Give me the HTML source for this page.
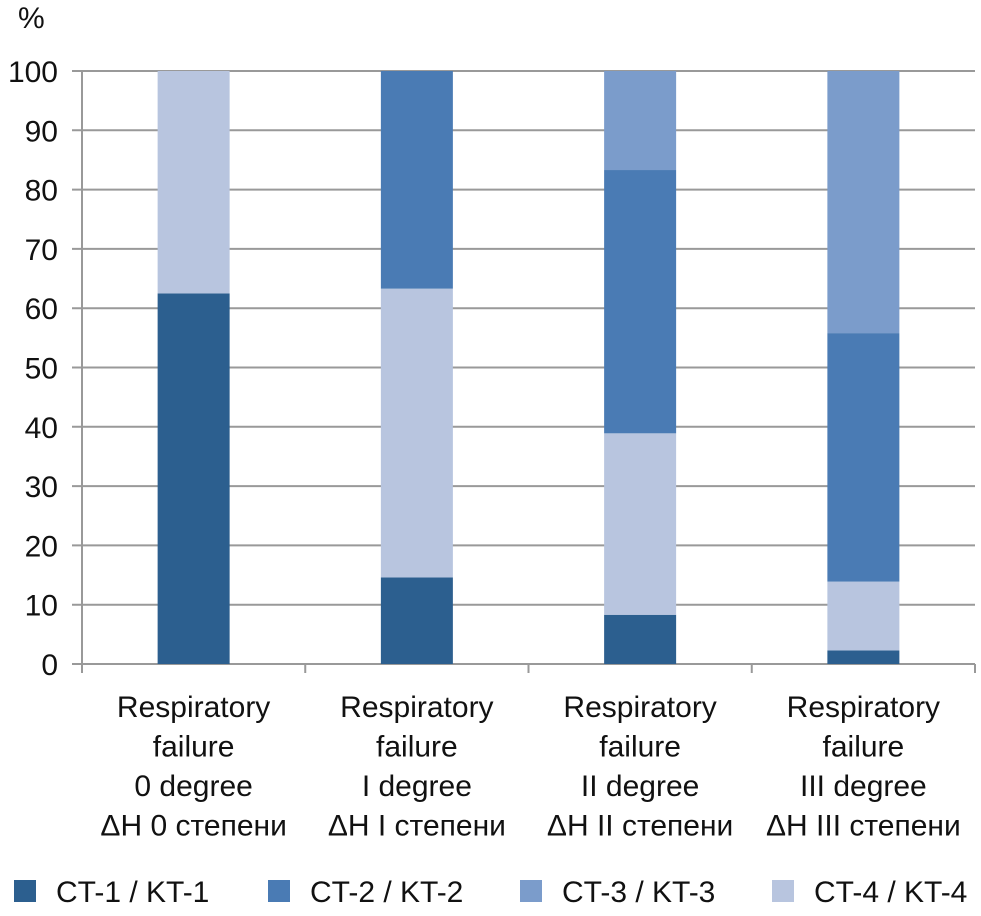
<!DOCTYPE html>
<html><head><meta charset="utf-8">
<style>
body{margin:0;background:#fff;}
svg{display:block;font-family:"Liberation Sans",sans-serif;}
</style></head>
<body>
<svg id="chart" width="981" height="916" viewBox="0 0 981 916">
<text x="18" y="28" font-size="30" fill="#111">%</text>
<g id="grid"></g><g id="bars"></g><g id="labels"></g><g id="legend"></g>
</svg>
<script>
const categories=[["Respiratory","failure","0 degree","ΔН 0 степени"],["Respiratory","failure","I degree","ΔН I степени"],["Respiratory","failure","II degree","ΔН II степени"],["Respiratory","failure","III degree","ΔН III степени"]];
const seriesNames=["CT-1 / KT-1","CT-2 / KT-2","CT-3 / KT-3","CT-4 / KT-4"];
const ct1=[62.5,14.6,8.3,2.3];
const ct4=[37.5,48.7,30.6,11.6];
const ct2=[0,36.7,44.4,41.9];
const ct3=[0,0,16.7,44.2];
const yTicks=[0,10,20,30,40,50,60,70,80,90,100];
const colors={ct1:"#2c5f8f",ct2:"#4a7bb4",ct3:"#7b9ccb",ct4:"#b8c5df"};
const NS="http://www.w3.org/2000/svg";
const x0=82,x1=975,yb=664,yt=71;
const y=v=>yb-(yb-yt)*v/100;
const bandW=(x1-x0)/categories.length;
const xc=i=>x0+bandW*(i+0.5);
const barW=72;
function mk(tag,attrs,parent){const e=document.createElementNS(NS,tag);for(const k in attrs)e.setAttribute(k,attrs[k]);parent.appendChild(e);return e;}
const grid=document.getElementById('grid');
yTicks.forEach(t=>{
 const l=mk('line',{x1:72,x2:x1,y1:y(t),y2:y(t),stroke:"#999","stroke-width":2},grid);
 
 
 const tx=mk('text',{x:58,y:y(t)+11,"text-anchor":"end","font-size":30,fill:"#111"},grid);
 tx.textContent=t;
 
 
});
const ax=mk('line',{x1:x0,x2:x0,y1:yt,y2:673,stroke:"#999","stroke-width":2},grid);


for(let i=1;i<=categories.length;i++){
 const tk=mk('line',{x1:x0+bandW*i,x2:x0+bandW*i,y1:yb,y2:673,stroke:"#999","stroke-width":2},grid);
 
 
}
const bars=document.getElementById('bars');
const order=[["ct1",ct1],["ct4",ct4],["ct2",ct2],["ct3",ct3]];
categories.forEach((c,i)=>{
 let acc=0;
 order.forEach(([k,arr])=>{
  const v=arr[i];
  if(v>0){
   const r=mk('rect',{x:xc(i)-barW/2,y:y(acc+v),width:barW,height:y(acc)-y(acc+v),fill:colors[k]},bars);
   
   
  }
  acc+=v;
 });
});
const labels=document.getElementById('labels');
categories.forEach((lines,i)=>{
 lines.forEach((s,j)=>{
  const t=mk('text',{x:xc(i),y:717+j*39.5,"text-anchor":"middle","font-size":30,fill:"#111"},labels);
  t.textContent=s;
  
  
 });
});
const legend=document.getElementById('legend');
const lx=[14,268,520,772];
const lk=["ct1","ct2","ct3","ct4"];
seriesNames.forEach((n,i)=>{
 const r=mk('rect',{x:lx[i],y:880,width:22,height:22,fill:colors[lk[i]]},legend);
 
 
 const t=mk('text',{x:lx[i]+42,y:902,"font-size":30,fill:"#111"},legend);
 t.textContent=n;
 
 
});
</script>
</body></html>
